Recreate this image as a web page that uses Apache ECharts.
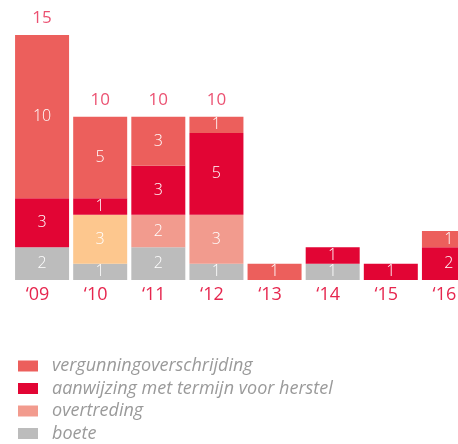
<!DOCTYPE html>
<html><head><meta charset="utf-8">
<script src="https://cdn.jsdelivr.net/npm/echarts@6/dist/echarts.min.js"></script>
<style>html,body{margin:0;padding:0;background:#fff}#c{width:458px;height:444px}</style>
</head><body><div id="c"></div>
<script>
const categories = ['‘09','‘10','‘11','‘12','‘13','‘14','‘15','‘16'];
const boete = [2,1,2,1,0,1,0,0];
const overtreding = [0,3,2,3,0,0,0,0];
const aanwijzing = [3,1,3,5,0,1,1,2];
const vergunning = [10,5,3,1,1,0,0,1];
const totals = [15,10,10,10,null,null,null,null];

const FONT = '"Open Sans", "DejaVu Sans", sans-serif';
const chart = echarts.init(document.getElementById('c'));
const inLabel = {show:true, position:'inside', color:'#fff', fontSize:16, fontFamily:FONT, fontWeight:300,
  formatter:p => (p.value ? String(p.value) : '')};
function mk(name, data, color, extra){
  return {name, type:'bar', stack:'s', barWidth:54, data: data.map((v,i)=> extra && extra[i] ? {value:v, itemStyle:{color:extra[i]}} : v),
    itemStyle:{color}, label:inLabel, emphasis:{disabled:true}};
}
chart.setOption({
  animation:false,
  grid:{left:13, width:465, top:35, bottom:164, containLabel:false, outerBoundsMode:'none'},
  xAxis:{type:'category', data:categories, axisLine:{show:false}, axisTick:{show:false},
    axisLabel:{color:'#e6264e', fontSize:18, fontFamily:FONT, margin:6, padding:[0,9,0,0]}},
  yAxis:{type:'value', min:0, max:15, show:false},
  legend:{orient:'vertical', left:18, top:357, padding:0, itemWidth:20, itemHeight:11, itemGap:4.5,
    icon:'rect', data:['vergunningoverschrijding','aanwijzing met termijn voor herstel','overtreding','boete'],
    textStyle:{color:'#9a9a9a', fontSize:18, fontStyle:'italic', fontFamily:FONT, lineHeight:18, padding:[0,0,0,9]}},
  series:[
    mk('boete', boete, '#bcbcbc'),
    mk('overtreding', overtreding, '#f29b8e', [null,'#fdc78e']),
    mk('aanwijzing met termijn voor herstel', aanwijzing, '#e20534'),
    mk('vergunningoverschrijding', vergunning, '#ec5f5c'),
    {name:'totaal', type:'scatter', symbolSize:0, data:totals,
      label:{show:true, position:'top', distance:8, color:'#e6264e', fontSize:17, fontFamily:FONT,
        formatter:p=>p.value==null?'':String(p.value)}, emphasis:{disabled:true}}
  ]
});
</script></body></html>
